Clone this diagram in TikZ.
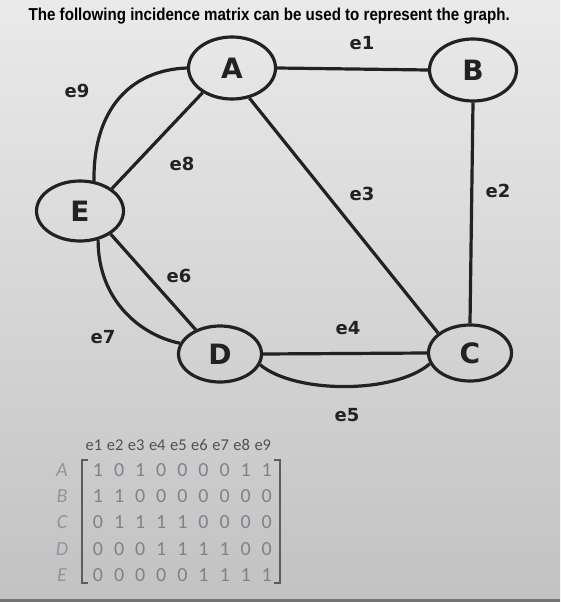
\documentclass[tikz,border=0pt]{standalone}
\usepackage{fontspec}
\setmainfont{DejaVu Sans}
\newfontfamily\titlefont{Liberation Sans}
\newfontfamily\matfont{Carlito}
\usetikzlibrary{shapes.geometric}
\definecolor{ink}{HTML}{222222}
\definecolor{bgtop}{HTML}{EAEAEA}
\definecolor{bgmid}{HTML}{E2E2E2}
\definecolor{bgbot}{HTML}{C2C2C2}
\definecolor{digit}{HTML}{7E838B}
\definecolor{rowlab}{HTML}{8C96A2}
\definecolor{headc}{HTML}{4E5156}
\definecolor{brack}{HTML}{5A5D62}
\begin{document}
\begin{tikzpicture}[x=1pt,y=-1pt,
  vert/.style={ellipse,draw=ink,line width=3.2pt,minimum width=87pt,minimum height=60pt,inner sep=0pt,
    font=\fontsize{28}{28}\selectfont\bfseries,text=ink},
  edge/.style={draw=ink,line width=3.2pt},
  elab/.style={font=\fontsize{18}{18}\selectfont\bfseries,text=ink,inner sep=0pt},
  dig/.style={font=\matfont\fontsize{20}{20}\selectfont,text=digit,inner sep=0pt},
  rlab/.style={font=\matfont\itshape\fontsize{20}{20}\selectfont,text=rowlab,inner sep=0pt},
  hlab/.style={font=\matfont\fontsize{16.5}{16.5}\selectfont,text=headc,inner sep=0pt},
  brk/.style={draw=brack,line width=1.5pt}]
\useasboundingbox (0,0) rectangle (560,602);
\begin{scope}[y=1pt]
  \shade[top color=bgtop,middle color=bgmid,bottom color=bgbot] (0,-602) rectangle (560,0);
  \fill[black!55] (0,-602) rectangle (560,-599);
\end{scope}

% title
\node[anchor=base west,inner sep=0pt] (title) at (28.5,21)
  {\resizebox{481pt}{12.5pt}{\titlefont\bfseries The following incidence matrix can be used to represent the graph.}};

% vertices
\node[vert,minimum height=62pt] (A) at (232,68) {A};
\node[vert,minimum height=62pt] (B) at (473,70) {B};
\node[vert] (E) at (80,211) {E};
\node[vert,minimum width=83pt,minimum height=56pt] (D) at (220,354) {D};
\node[vert,minimum width=83pt,minimum height=56pt] (C) at (470,353) {C};

% edges
\draw[edge] (A.east) -- (B.west);
\draw[edge] (B.south) -- (C.north);
\draw[edge] (A.-60) -- (C.148);
\draw[edge] (D.east) -- (C.west);
\draw[edge] (D.-15) .. controls (295,394) and (395,394) .. (C.-165);
\draw[edge] (E.-37) -- (D.135);
\draw[edge] (E.-58) .. controls (98,300) and (140,335) .. (D.165);
\draw[edge] (E.35) -- (A.-140);
\draw[edge] (E.65) .. controls (93,110) and (130,70) .. (A.west);

% edge labels
\node[elab] (l1) at (362,43) {e1};
\node[elab] (l2) at (498,191) {e2};
\node[elab] (l3) at (362,194) {e3};
\node[elab] (l4) at (348,328) {e4};
\node[elab] (l5) at (347,415) {e5};
\node[elab] (l6) at (179,276) {e6};
\node[elab] (l7) at (103,337) {e7};
\node[elab] (l8) at (182,164) {e8};
\node[elab] (l9) at (77,91) {e9};

% incidence matrix
\foreach \k in {1,...,9}
  \node[hlab] (h\k) at ({94+21.1*(\k-1)},445) {e\k};
\foreach \lab [count=\r from 0] in {A,B,C,D,E}
  \node[rlab] (r\lab) at (62,{470+26.2*\r}) {\lab};
\foreach \rowvals [count=\r from 0] in {{1,0,1,0,0,0,0,1,1},{1,1,0,0,0,0,0,0,0},{0,1,1,1,1,0,0,0,0},{0,0,0,1,1,1,1,0,0},{0,0,0,0,0,1,1,1,1}}
  \foreach \v [count=\c from 0] in \rowvals
    \node[dig] (m\r-\c) at ({98+21.1*\c},{470+26.2*\r}) {\v};

\draw[brk] (88,460) -- (82,460) -- (82,583) -- (88,583);
\draw[brk] (274,460) -- (280,460) -- (280,583) -- (274,583);
\end{tikzpicture}
\end{document}
